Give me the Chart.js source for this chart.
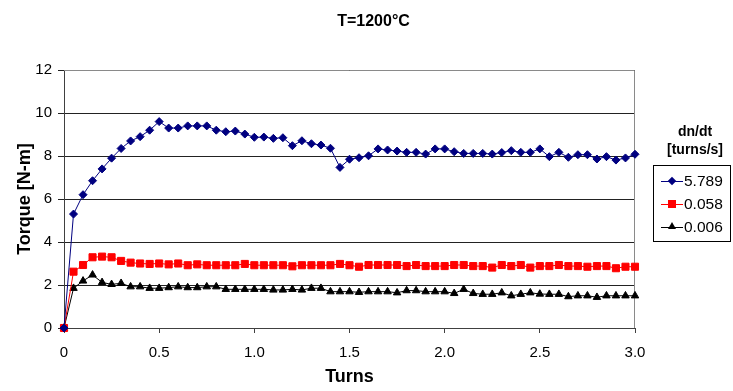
<!DOCTYPE html>
<html><head><meta charset="utf-8">
<script src="https://cdn.jsdelivr.net/npm/chart.js@4"></script>
<style>
html,body{margin:0;padding:0;background:#fff;}
#wrap{position:relative;width:733px;height:391px;font-family:"Liberation Sans",Arial,sans-serif;overflow:hidden;}
#c{position:absolute;left:0;top:0;}
#legTitle{position:absolute;left:653px;width:84px;top:122px;text-align:center;font-weight:bold;font-size:14px;line-height:18px;color:#000;}
#legend{position:absolute;left:653px;top:165px;width:78px;height:77px;border:1px solid #000;box-sizing:border-box;background:#fff;}
.item{position:absolute;left:0;width:78px;height:20px;}
.ln{position:absolute;left:7px;width:22px;top:10px;height:0;border-top:1px solid;}
.mk{position:absolute;}
.tx{position:absolute;left:30px;top:1px;font-size:15.5px;line-height:18px;color:#000;}
</style>
</head><body>
<div id="wrap">
<canvas id="c" width="733" height="391"></canvas>
<div id="legTitle">dn/dt<br>[turns/s]</div>
<div id="legend"></div>
</div>
<script>
const turns = [0,0.05,0.1,0.15,0.2,0.25,0.3,0.35,0.4,0.45,0.5,0.55,0.6,0.65,0.7,0.75,0.8,0.85,0.9,0.95,
1,1.05,1.1,1.15,1.2,1.25,1.3,1.35,1.4,1.45,1.5,1.55,1.6,1.65,1.7,1.75,1.8,1.85,1.9,1.95,
2,2.05,2.1,2.15,2.2,2.25,2.3,2.35,2.4,2.45,2.5,2.55,2.6,2.65,2.7,2.75,2.8,2.85,2.9,2.95,3];

const seriesNames = ["5.789","0.058","0.006"];

const torque5789 = [0,5.3,6.2,6.85,7.4,7.9,8.35,8.7,8.9,9.2,9.6,9.3,9.3,9.4,9.4,9.4,9.2,9.13,9.16,9.02,
8.87,8.88,8.82,8.85,8.48,8.71,8.57,8.51,8.36,7.47,7.85,7.92,8.01,8.33,8.28,8.23,8.17,8.17,8.09,8.33,
8.33,8.2,8.12,8.12,8.12,8.09,8.16,8.25,8.17,8.17,8.33,7.97,8.17,7.94,8.06,8.06,7.86,7.97,7.81,7.91,8.08];

const torque0058 = [0,2.62,2.93,3.29,3.32,3.29,3.12,3.04,3.0,2.98,3.0,2.96,3.0,2.92,2.96,2.92,2.92,2.92,2.92,2.98,
2.92,2.92,2.92,2.92,2.87,2.92,2.92,2.92,2.92,2.98,2.92,2.85,2.93,2.93,2.93,2.93,2.88,2.93,2.88,2.88,
2.88,2.93,2.93,2.88,2.88,2.81,2.93,2.88,2.93,2.81,2.88,2.88,2.93,2.88,2.88,2.85,2.88,2.88,2.78,2.85,2.85];

const torque0006 = [0,1.85,2.19,2.47,2.12,2.03,2.08,1.92,1.92,1.85,1.85,1.88,1.92,1.88,1.88,1.92,1.92,1.8,1.8,1.8,
1.8,1.8,1.77,1.77,1.8,1.77,1.85,1.85,1.69,1.69,1.69,1.66,1.69,1.69,1.69,1.64,1.74,1.74,1.69,1.69,
1.69,1.61,1.8,1.61,1.57,1.57,1.64,1.5,1.57,1.64,1.58,1.57,1.57,1.46,1.5,1.5,1.43,1.5,1.5,1.5,1.5];

const xTicks = [0,0.5,1,1.5,2,2.5,3];
const yTicks = [0,2,4,6,8,10,12];

const styles = [
  {color:'#000080', point:'rectRot', radius:4},
  {color:'#FF0000', point:'rect', radius:5},
  {color:'#000000', point:'triangle', radius:4.3}
];
const values = [torque5789, torque0058, torque0006];

const datasets = values.map((v,i)=>({
  label: seriesNames[i],
  data: turns.map((t,j)=>({x:t,y:v[j]})),
  borderColor: styles[i].color,
  backgroundColor: styles[i].color,
  pointBackgroundColor: styles[i].color,
  pointBorderColor: styles[i].color,
  pointStyle: styles[i].point,
  pointRadius: styles[i].radius,
  pointBorderWidth: 1,
  borderWidth: 1,
  tension: 0,
  clip: false
}));

const FONT = "'Liberation Sans', Arial, sans-serif";

const frame = {
  id:'frame',
  beforeDatasetsDraw(chart){
    const a = chart.chartArea, ctx = chart.ctx;
    ctx.save();
    ctx.strokeStyle = '#8a8a8a';
    ctx.lineWidth = 1;
    ctx.beginPath();
    ctx.moveTo(a.left, a.top+0.5);
    ctx.lineTo(a.right-0.5, a.top+0.5);
    ctx.lineTo(a.right-0.5, a.bottom);
    ctx.stroke();
    ctx.restore();
  }
};

new Chart(document.getElementById('c'), {
  type:'line',
  data:{datasets},
  options:{
    responsive:false,
    animation:false,
    devicePixelRatio:1,
    layout:{padding:{left:14,right:0,top:0,bottom:0}},
    plugins:{
      legend:{display:false},
      tooltip:{enabled:false},
      title:{display:true,text:'T=1200°C',color:'#000',
        font:{family:FONT,size:16,weight:'bold',lineHeight:1.2},
        padding:{top:12,bottom:38.8}}
    },
    scales:{
      x:{type:'linear',min:0,max:3,
        afterBuildTicks(s){s.ticks = xTicks.map(v=>({value:v}));},
        afterFit(s){s.height = 63;},
        grid:{drawOnChartArea:false,drawTicks:true,tickLength:5,color:'#404040'},
        border:{display:true,color:'#404040',width:1},
        ticks:{color:'#000',font:{family:FONT,size:15},padding:11,maxRotation:0},
        title:{display:true,text:'Turns',color:'#000',font:{family:FONT,size:18,weight:'bold',lineHeight:1.2},padding:{top:0,bottom:3}}
      },
      y:{type:'linear',min:0,max:12,
        afterBuildTicks(s){s.ticks = yTicks.map(v=>({value:v}));},
        afterFit(s){s.width = 50;},
        grid:{color:'#222',tickLength:6,drawTicks:true},
        border:{display:true,color:'#404040',width:1},
        ticks:{color:'#000',font:{family:FONT,size:15},padding:6},
        title:{display:true,text:'Torque [N-m]',color:'#000',font:{family:FONT,size:18,weight:'bold',lineHeight:1.2},padding:{top:0,bottom:0}}
      },
      yRight:{type:'linear',position:'right',min:0,max:12,
        afterFit(s){s.width = 98;},
        grid:{drawOnChartArea:false,drawTicks:false},
        border:{display:false},
        ticks:{display:false}
      }
    }
  },
  plugins:[frame]
});

// HTML legend built from the series
const leg = document.getElementById('legend');
const rowTops = [5,28,51];
seriesNames.forEach((name,i)=>{
  const it = document.createElement('div');
  it.className='item'; it.style.top = rowTops[i]+'px';
  const ln = document.createElement('div'); ln.className='ln'; ln.style.borderColor = styles[i].color;
  it.appendChild(ln);
  const mk = document.createElement('div'); mk.className='mk';
  if (styles[i].point==='rectRot'){
    Object.assign(mk.style,{left:'15px',top:'7px',width:'6px',height:'6px',background:styles[i].color,transform:'rotate(45deg)'});
  } else if (styles[i].point==='rect'){
    Object.assign(mk.style,{left:'14px',top:'6px',width:'8px',height:'8px',background:styles[i].color});
  } else {
    Object.assign(mk.style,{left:'14px',top:'5px',width:'0',height:'0',borderLeft:'4px solid transparent',borderRight:'4px solid transparent',borderBottom:'7px solid '+styles[i].color});
  }
  it.appendChild(mk);
  const tx = document.createElement('div'); tx.className='tx'; tx.textContent = name;
  it.appendChild(tx);
  leg.appendChild(it);
});
</script>
</body></html>
